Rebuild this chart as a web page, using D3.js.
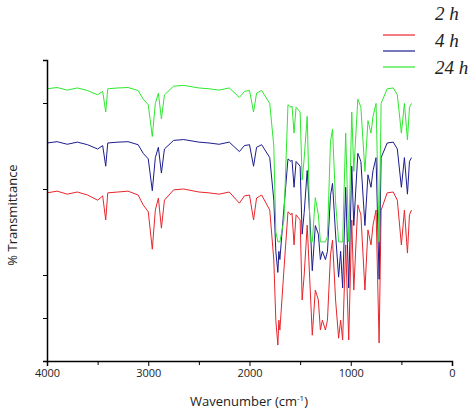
<!DOCTYPE html>
<html><head><meta charset="utf-8">
<script src="https://cdn.jsdelivr.net/npm/d3@7"></script>
<style>body{margin:0;background:#fff}</style></head>
<body><svg id="c" width="474" height="414"></svg>
<script>
const wavenumbers=[4000,3900,3800,3700,3600,3500,3450,3420,3400,3300,3200,3100,3050,3000,2960,2930,2900,2870,2840,2750,2650,2500,2400,2300,2200,2100,2050,2000,1960,1930,1880,1800,1760,1740,1720,1710,1700,1660,1620,1590,1580,1560,1540,1500,1480,1460,1430,1400,1380,1350,1320,1300,1280,1250,1230,1200,1180,1150,1120,1100,1080,1050,1020,990,970,930,900,860,830,800,780,750,720,700,640,580,540,500,470,440,420,400];
const red=[39.1,39.5,38.8,39.3,38.6,37.4,38.4,32.8,39.1,39.3,39.5,38.6,36.3,34.7,26.0,35.1,37.9,30.9,37.4,39.8,40.0,39.3,39.1,38.8,39.3,36.7,38.4,38.6,32.8,37.9,38.6,35.1,23.5,9.5,3.7,9.5,7.2,21.2,34.7,34.0,34.4,27.0,34.0,32.8,14.2,20.0,31.6,16.5,6.0,16.5,14.2,7.2,9.5,7.2,9.5,24.7,28.1,14.2,5.3,9.5,4.9,27.0,4.9,32.8,16.5,36.3,34.0,16.5,30.5,27.0,31.6,35.1,4.2,35.1,39.1,39.3,37.4,27.0,35.1,25.1,34.0,35.1];
const blue=[50.7,51.0,50.4,50.9,50.3,49.3,50.1,45.3,50.7,50.9,51.0,50.3,48.3,47.0,39.6,47.3,49.7,43.7,49.3,51.3,51.5,50.9,50.7,50.4,50.9,48.7,50.1,50.3,45.3,49.7,50.3,47.3,37.4,25.5,20.6,25.5,23.6,35.5,47.0,46.4,46.7,40.4,46.4,45.3,29.5,34.5,44.3,31.5,21.0,31.5,29.5,23.6,25.5,23.6,25.5,38.5,41.3,29.5,19.5,25.5,17.0,40.4,17.0,45.3,31.5,48.3,46.4,31.5,43.3,40.4,44.3,47.3,19.0,47.3,50.7,50.9,49.3,40.4,47.3,38.8,46.4,47.3];
const green=[63.3,63.6,63.0,63.5,62.9,61.9,62.7,57.9,63.3,63.5,63.6,62.9,60.9,59.6,52.2,59.9,62.3,56.3,61.9,63.9,64.1,63.5,63.3,63.0,63.5,61.3,62.7,62.9,57.9,62.3,62.9,59.9,50.0,30.0,27.7,27.7,27.7,32.8,59.6,59.0,59.3,53.0,59.0,57.9,42.1,47.1,56.9,27.7,27.7,38.0,34.0,27.7,27.7,27.7,29.0,51.1,53.9,37.0,27.7,27.7,27.7,53.0,27.7,57.9,44.1,60.9,59.0,44.1,55.9,53.0,56.9,59.9,27.7,59.9,63.3,63.5,61.9,53.0,59.9,51.4,59.0,59.9];
const series=[{name:"4 h",vals:red,color:"#e8262c"},{name:"24 h",vals:blue,color:"#1c1c8e"},{name:"2 h",vals:green,color:"#2ee82e"}];
const xTicks=[4000,3000,2000,1000,0];
const xMinor=[3500,2500,1500,500];
const yTicks=[0,10,20,40,60,70];
const legendLabels=["2 h","4 h","24 h"];
const legendColors=["#e8262c","#1c1c8e","#2ee82e"];

const svg=d3.select("#c");
const x=d3.scaleLinear().domain([4000,0]).range([47,452]);
const y=d3.scaleLinear().domain([0,70]).range([361,60]);
const line=d3.line().x((d,i)=>x(wavenumbers[i])).y(d=>y(d));
// draw green first so red/blue overlay like reference? reference: green on top in dense region
[series[0],series[1],series[2]].forEach(s=>{
  svg.append("path").datum(s.vals).attr("d",line).attr("fill","none").attr("stroke",s.color).attr("stroke-width",1);
});
const xa=svg.append("g").attr("transform","translate(0,361)")
  .call(d3.axisBottom(x).tickValues(xTicks).tickFormat(d3.format("d")).tickSize(5));
xa.selectAll("text").attr("font-family","Open Sans, sans-serif").attr("font-size",11).attr("fill","#222");
xa.selectAll(".tick").filter(d=>xMinor.includes(d)).select("text").remove();
xa.call(g=>g.select(".domain").attr("stroke-width",1.5));
svg.append("g").attr("transform","translate(0,361)").call(d3.axisBottom(x).tickValues(xMinor).tickFormat("").tickSize(4)).select(".domain").remove();
const ya=svg.append("g").attr("transform","translate(47,0)")
  .call(d3.axisLeft(y).tickValues(yTicks).tickFormat("").tickSizeOuter(0).tickSize(4));
ya.select(".domain").attr("stroke-width",1.5);
svg.append("text").attr("x",249).attr("y",406).attr("text-anchor","middle")
  .attr("font-family","Open Sans, sans-serif").attr("font-size",13).attr("fill","#222")
  .html('Wavenumber (cm<tspan dy="-5" font-size="8">-1</tspan><tspan dy="5">)</tspan>');
svg.append("text").attr("transform","translate(17,215) rotate(-90)").attr("text-anchor","middle")
  .attr("font-family","Open Sans, sans-serif").attr("font-size",13).attr("fill","#222").text("% Transmittance");
legendLabels.forEach((l,i)=>{
  svg.append("text").attr("x",435).attr("y",20+i*27).attr("font-family","Liberation Serif, serif")
    .attr("font-style","italic").attr("font-size",19).attr("fill","#222").text(l);
  svg.append("line").attr("x1",383).attr("x2",415).attr("y1",35+i*16).attr("y2",35+i*16)
    .attr("stroke",legendColors[i]).attr("stroke-width",1.2);
});
</script></body></html>
